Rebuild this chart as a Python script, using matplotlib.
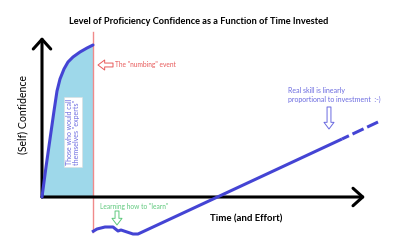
import matplotlib
matplotlib.use("Agg")
import matplotlib.pyplot as plt

plt.rcParams['font.family'] = ['Lato', 'DejaVu Sans']

# Diagram values (time, confidence) in arbitrary diagram units
conf_t = [0, 4, 8, 12, 15, 18, 22, 26, 31, 38, 45, 51]
conf_v = [0, 30, 58, 86, 106, 118, 128, 135, 140, 145, 149, 152]

learn_t = [50, 55, 63, 71, 76, 79, 85, 91, 96]
learn_v = [-35, -32, -30, -30, -34, -33, -35, -37, -37]

skill_t = [96, 300]
skill_v = [-37, 58]
skill_proj_t = [300, 336]
skill_proj_v = [58, 75]

numbing_t = 51

title = "Level of Proficiency Confidence as a Function of Time Invested"
xlabel = "Time (and Effort)"
ylabel = "(Self) Confidence"
experts_txt = 'Those who would call\nthemselves "experts"'
numbing_txt = 'The "numbing" event'
learn_txt = 'Learning how to "learn"'
skill_txt = 'Real skill is linearly\nproportional to investment  :-)'

BLUE = "#4444d4"
FILL = "#9ed8ea"
RED = "#f08a8a"
REDTXT = "#e85a5a"
GREEN = "#5ec97c"
TXTBLUE = "#6a6ae0"

fig = plt.figure(figsize=(4.05, 2.5), dpi=100)
ax = fig.add_axes([0, 0, 1, 1])
ax.set_xlim(-42, 363)
ax.set_ylim(-53, 197)
ax.axis('off')

# fill under confidence curve
ax.fill_between(conf_t, conf_v, 0, color=FILL, lw=0, zorder=1)

# axes arrows
ax.annotate('', xy=(0, 160), xytext=(0, 0),
            arrowprops=dict(arrowstyle='->,head_width=0.45,head_length=0.5',
                            lw=2.2, color='black', mutation_scale=14,
                            shrinkA=0, shrinkB=0), zorder=3)
ax.annotate('', xy=(323, 0), xytext=(0, 0),
            arrowprops=dict(arrowstyle='->,head_width=0.45,head_length=0.5',
                            lw=2.2, color='black', mutation_scale=14,
                            shrinkA=0, shrinkB=0), zorder=3)

# red numbing line
ax.plot([numbing_t, numbing_t], [-35, 165], color=RED, lw=1.0, zorder=2)

# confidence curve
ax.plot(conf_t, conf_v, color=BLUE, lw=2.2, solid_capstyle='round',
        solid_joinstyle='round', zorder=4)

# learning wave + skill line
ax.plot(learn_t + skill_t, learn_v + skill_v, color=BLUE, lw=2.2,
        solid_capstyle='butt', solid_joinstyle='round', zorder=4)
ax.plot(skill_proj_t, skill_proj_v, color=BLUE, lw=2.2,
        linestyle=(1.5, (4, 1.3)), zorder=4)

# texts
ax.text(157, 175, title, ha='center', va='center', fontsize=6.7,
        fontweight='bold', color='black')
ax.text(-19, 82, ylabel, ha='center', va='center', rotation=90,
        fontsize=7.6, color='black')
ax.text(204, -22, xlabel, ha='center', va='center', fontsize=6.9,
        fontweight='bold', color='black')
ax.text(31, 65, experts_txt, ha='center', va='center', rotation=90,
        fontsize=5.0, color=TXTBLUE, linespacing=1.1,
        bbox=dict(boxstyle='square,pad=0.2', fc='white', ec='#dddddd', lw=0.4))
ax.text(73, 132, numbing_txt, ha='left', va='center', fontsize=4.8,
        color=REDTXT)
ax.text(58, -9, learn_txt, ha='left', va='center', fontsize=4.8,
        color=GREEN)
ax.text(246, 102, skill_txt, ha='left', va='center', fontsize=5.0,
        color=TXTBLUE, linespacing=1.3)

# hollow arrows
ax.annotate('', xy=(56, 132), xytext=(71, 132),
            arrowprops=dict(arrowstyle='simple,head_width=0.9,head_length=0.6,tail_width=0.35',
                            fc='white', ec=REDTXT, lw=0.7, mutation_scale=8,
                            shrinkA=0, shrinkB=0))
ax.annotate('', xy=(75, -28), xytext=(75, -14),
            arrowprops=dict(arrowstyle='simple,head_width=0.9,head_length=0.6,tail_width=0.35',
                            fc='white', ec=GREEN, lw=0.7, mutation_scale=8,
                            shrinkA=0, shrinkB=0))
ax.annotate('', xy=(287, 68), xytext=(287, 90),
            arrowprops=dict(arrowstyle='simple,head_width=0.9,head_length=0.6,tail_width=0.35',
                            fc='white', ec=TXTBLUE, lw=0.7, mutation_scale=8,
                            shrinkA=0, shrinkB=0))

fig.savefig('out.png', dpi=100, facecolor='white')
